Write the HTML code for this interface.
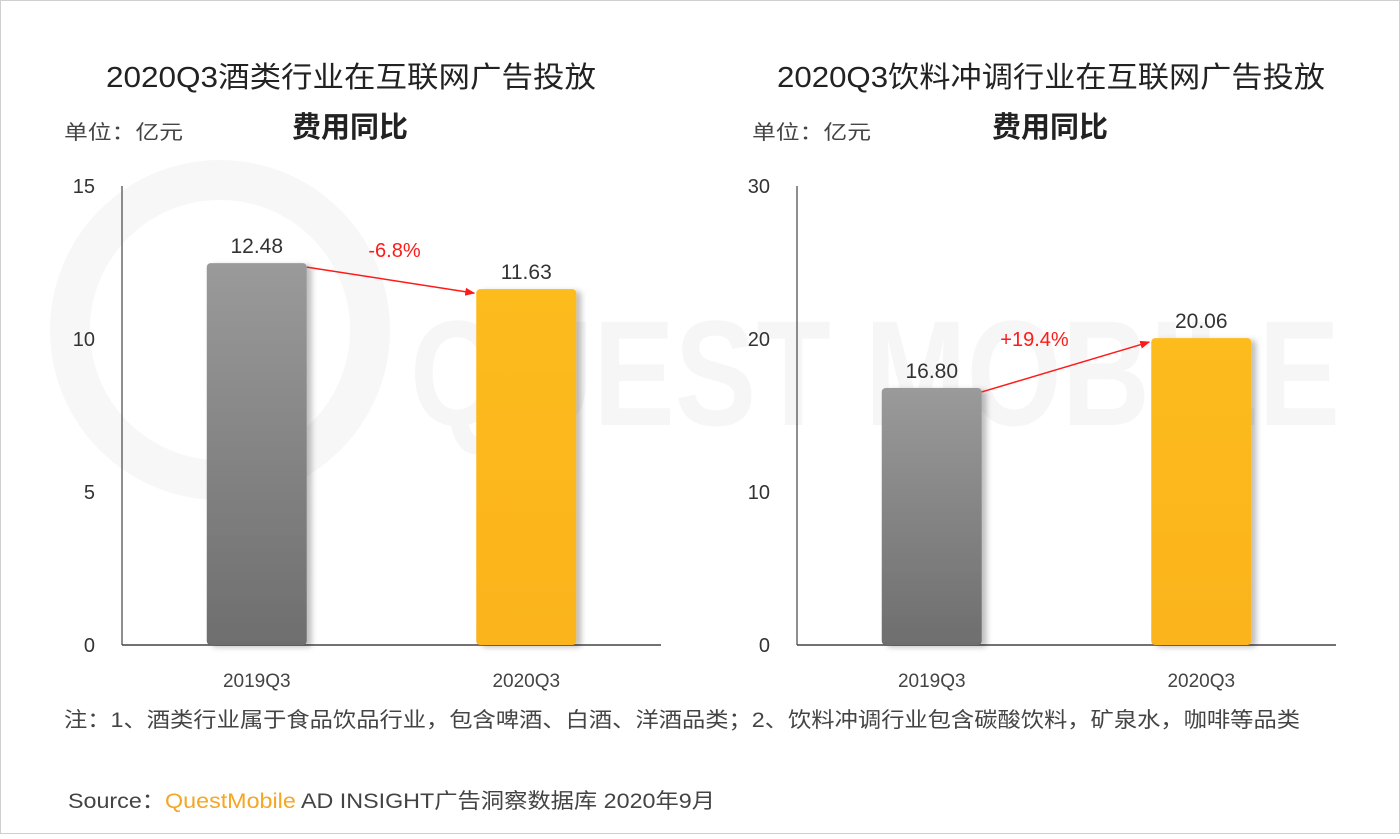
<!DOCTYPE html>
<html><head><meta charset="utf-8">
<style>
html,body{margin:0;padding:0;background:#fff;}
body{width:1400px;height:834px;overflow:hidden;font-family:"Liberation Sans","Noto Sans CJK SC",sans-serif;}
svg text{font-family:"Liberation Sans","Noto Sans CJK SC",sans-serif;}
</style></head>
<body>
<svg id="chart" width="1400" height="834" viewBox="0 0 1400 834">
<defs>
<linearGradient id="gGray" x1="0" y1="0" x2="0" y2="1"><stop offset="0" stop-color="#9a9a9a"/><stop offset="1" stop-color="#6e6e6e"/></linearGradient>
<linearGradient id="gGold" x1="0" y1="0" x2="0" y2="1"><stop offset="0" stop-color="#fdbb1a"/><stop offset="1" stop-color="#fbb41f"/></linearGradient>
<filter id="sh" x="-20%" y="-5%" width="150%" height="115%"><feDropShadow dx="5" dy="2" stdDeviation="3" flood-color="#000" flood-opacity="0.25"/></filter>
<marker id="arr" markerWidth="10" markerHeight="8" refX="9" refY="4" orient="auto" markerUnits="userSpaceOnUse"><path d="M0,0 L10,4 L0,8 z" fill="#ff1a1a"/></marker>
</defs>
<rect x="0.5" y="0.5" width="1399" height="833" fill="#fff" stroke="#cfcfcf"/>
<g opacity="0.03">
<circle cx="220" cy="330" r="150" fill="none" stroke="#000" stroke-width="40"/>
<text x="410" y="425" font-size="150" font-weight="bold" fill="#000" textLength="930" lengthAdjust="spacingAndGlyphs">QUEST MOBILE</text>
</g>
<text x="106" y="87" font-size="29" fill="#222" textLength="490" lengthAdjust="spacingAndGlyphs">2020Q3酒类行业在互联网广告投放</text>
<text x="350" y="137" font-size="29" font-weight="bold" fill="#222" text-anchor="middle">费用同比</text>
<text x="64" y="139" font-size="20" fill="#444" textLength="119" lengthAdjust="spacingAndGlyphs">单位：亿元</text>
<text x="777" y="87" font-size="29" fill="#222" textLength="548" lengthAdjust="spacingAndGlyphs">2020Q3饮料冲调行业在互联网广告投放</text>
<text x="1050" y="137" font-size="29" font-weight="bold" fill="#222" text-anchor="middle">费用同比</text>
<text x="752" y="139" font-size="20" fill="#444" textLength="119" lengthAdjust="spacingAndGlyphs">单位：亿元</text>
<g id="plots"></g>
<text x="64" y="727" font-size="21" fill="#444" textLength="1236" lengthAdjust="spacingAndGlyphs">注：1、酒类行业属于食品饮品行业，包含啤酒、白酒、洋酒品类；2、饮料冲调行业包含碳酸饮料，矿泉水，咖啡等品类</text>
<text x="68" y="808" font-size="21" fill="#444" textLength="647" lengthAdjust="spacingAndGlyphs">Source：<tspan fill="#f5a623">QuestMobile</tspan> AD INSIGHT广告洞察数据库 2020年9月</text>
</svg>
<script>
const categories = ["2019Q3","2020Q3"];
const leftValues = [12.48, 11.63];
const rightValues = [16.80, 20.06];
const leftTicks = [0,5,10,15];
const rightTicks = [0,10,20,30];
const leftChange = "-6.8%";
const rightChange = "+19.4%";

const NS = "http://www.w3.org/2000/svg";
const root = document.getElementById('plots');
function mk(tag, attrs, parent){
  const e = document.createElementNS(NS, tag);
  for (const k in attrs) e.setAttribute(k, attrs[k]);
  (parent||root).appendChild(e);
  return e;
}
function drawPlot(side, x0, x1, values, ticks, change, labelDx, labelDy){
  const y0 = 645, yTop = 186, maxV = ticks[ticks.length-1];
  const yScale = v => y0 - (v / maxV) * (y0 - yTop);
  const band = (x1 - x0) / categories.length;
  const bw = 100;
  const xCenter = i => x0 + band * (i + 0.5);
  const g = mk('g', {});
  
  
  const ya = mk('line', {x1:x0, y1:yTop, x2:x0, y2:y0, stroke:'#444', 'stroke-width':1.2}, g);
  
  
  const xa = mk('line', {x1:x0, y1:y0, x2:x1, y2:y0, stroke:'#444', 'stroke-width':1.5}, g);
  
  
  ticks.forEach(t => {
    const tl = mk('text', {x:x0 - 27, y:yScale(t) + 7, 'font-size':20, fill:'#333', 'text-anchor':'end'}, g);
    tl.textContent = t;
    
    
  });
  const tops = [];
  values.forEach((v, i) => {
    const cx = xCenter(i), yt = yScale(v);
    const r = mk('rect', {x:cx - bw/2, y:yt, width:bw, height:y0 - yt, rx:4, fill: i===0 ? 'url(#gGray)' : 'url(#gGold)', filter:'url(#sh)'}, g);
    
    
    const vl = mk('text', {x:cx, y:yt - 10, 'font-size':21, fill:'#333', 'text-anchor':'middle'}, g);
    vl.textContent = v.toFixed(2);
    
    
    const cl = mk('text', {x:cx, y:y0 + 42, 'font-size':19, fill:'#444', 'text-anchor':'middle'}, g);
    cl.textContent = categories[i];
    
    
    tops.push([cx, yt]);
  });
  const ax1 = tops[0][0] + bw/2, ay1 = tops[0][1] + 4, ax2 = tops[1][0] - bw/2 - 2, ay2 = tops[1][1] + 4;
  const ar = mk('line', {x1:ax1, y1:ay1, x2:ax2, y2:ay2, stroke:'#ff1a1a', 'stroke-width':1.5, 'marker-end':'url(#arr)'}, g);
  
  
  const ct = mk('text', {x:(ax1+ax2)/2 + labelDx, y:Math.min(ay1, ay2) + labelDy, 'font-size':20, fill:'#ff1a1a', 'text-anchor':'middle'}, g);
  ct.textContent = change;
  
  
}
drawPlot('left', 122, 661, leftValues, leftTicks, leftChange, 4, -10);
drawPlot('right', 797, 1336, rightValues, rightTicks, rightChange, -31, 4);
</script>
</body></html>
